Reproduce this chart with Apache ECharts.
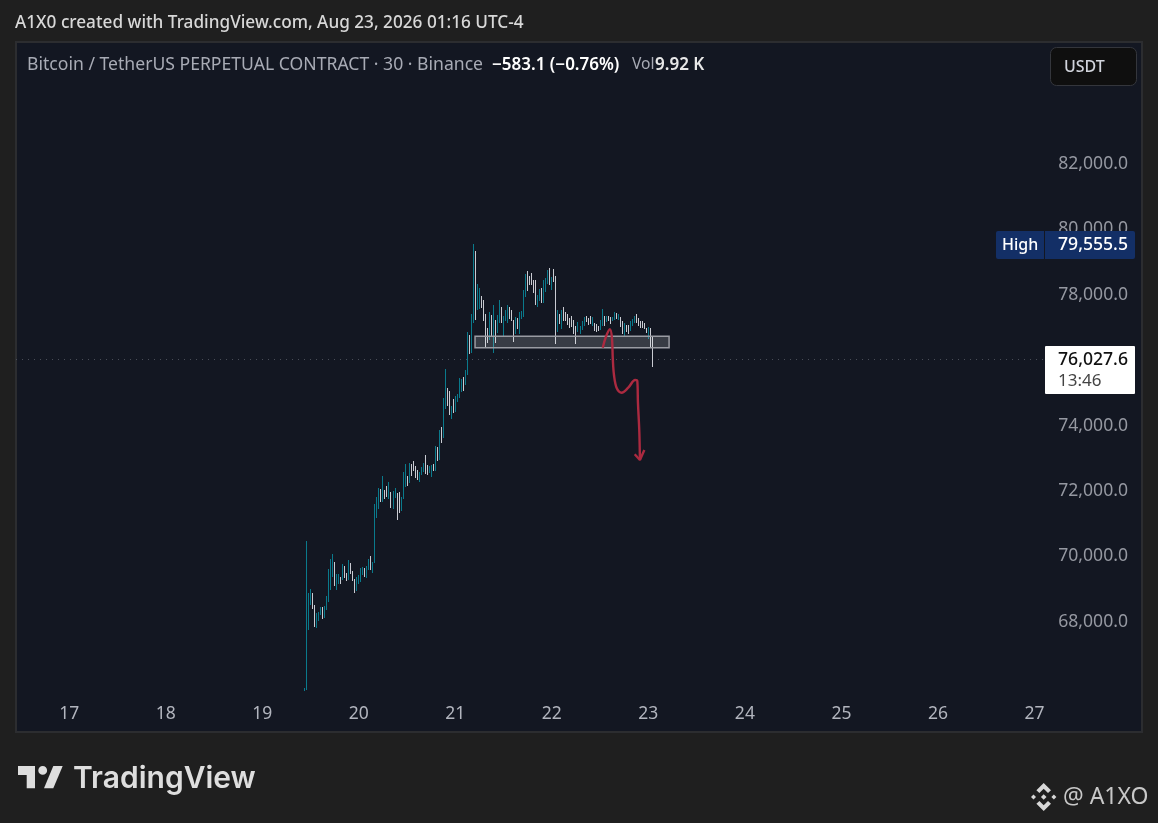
<!DOCTYPE html>
<html><head><meta charset="utf-8">
<style>html,body{margin:0;padding:0;background:#1f1f1f}#c{width:1158px;height:823px}</style>
<script src="https://cdn.jsdelivr.net/npm/echarts@6/dist/echarts.min.js"></script>
</head><body><div id="c"></div>
<script>
const headerText = 'A1X0 created with TradingView.com, Aug 23, 2026 01:16 UTC-4';
const symbolText = 'Bitcoin / TetherUS PERPETUAL CONTRACT · 30 · Binance';
const changeText = '−583.1 (−0.76%)';
const yTicks = [68000, 70000, 72000, 74000, 78000, 80000, 82000];
const dayLabels = [17, 18, 19, 20, 21, 22, 23, 24, 25, 26, 27];
const highPrice = 79555.5;
const lastPrice = 76027.6;
const countdown = '13:46';

const highs = [
65970,70458,68871,68993,68871,68504,68260,68290,68443,68443,
68474,68779,69603,69909,70061,69817,69451,69451,69359,69756,
69695,69481,69878,69787,69542,69298,69359,69420,69634,69665,
69634,69695,69909,70000,69817,71588,71802,72077,72046,72474,
72016,72138,72290,71955,71985,72107,71924,71955,71802,72596,
72840,72474,72871,72840,72932,72779,72657,72596,72748,72871,
73115,72810,72779,72810,72840,
73389,73359,73878,73969,74855,75740,75160,75069,74611,74824,
74916,74977,75465,75435,75496,75710,76870,76778,77420,
79555.5,79344,78336,78214,77970,77848,77420,76993,77481,77389,
77695,77237,77389,77848,77634,77359,77542,77695,77634,77542,
77237,77328,77298,77481,77512,78153,78641,78733,78580,78672,
78458,78458,78000,78183,78214,78458,78519,78764,78825,78550,
78794,78580,77542,77420,77542,77634,77481,77420,
77298,77359,77237,77054,77176,77054,77206,77328,77359,77298,
77359,77328,77145,77114,77054,77237,77572,77359,77359,77359,
77328,77328,77481,77450,77420,77328,77206,77145,77084,77084,
77206,77267,77359,77420,77298,77206,77206,77145,76993,77023,
76993,76718];
const lows = [
65888,65888,67741,68504,68382,67832,67802,68016,68199,68077,
68107,68352,68596,68962,69359,69084,68962,69145,69145,69268,
69329,69237,69268,69451,69237,68871,68932,69145,69206,69420,
69359,69329,69573,69573,69481,69787,71161,71436,71649,71680,
71741,71802,71771,71466,71436,71802,71100,71313,71374,71771,
72138,72168,72260,72474,72626,72413,72352,72290,72504,72596,
72535,72504,72565,72443,72626,
72626,72931,72962,73481,73633,74519,74611,74336,74214,74397,
74427,74733,74855,75038,75069,75252,75557,76198,76229,
77145,77237,77542,77573,77603,77206,76372,76535,76626,76748,
76229,76535,76840,77145,77145,76748,77206,77145,77267,77206,
76565,76809,76962,76809,77267,77328,77939,78122,78306,78306,
78061,77695,77634,77817,77756,77756,78092,78336,78306,78153,
78397,76504,76870,77115,76962,77206,77206,77084,
76993,77023,76809,76504,76870,76809,76931,77054,77176,77084,
77114,77054,76900,76870,76900,76931,77054,77054,77176,77206,
77114,77206,77237,77267,77237,77023,76809,76748,76870,76809,
76900,77054,77145,77145,77054,76993,76993,76962,76840,76657,
76412,75802];
const ups = [
1,1,1,1,0,0,1,1,1,0,
1,1,1,1,1,0,1,1,0,1,
0,0,1,0,0,0,1,1,1,1,
0,1,1,0,1,1,1,1,0,1,
0,0,1,0,1,1,0,0,1,1,
1,0,1,0,0,0,0,1,1,1,
0,0,1,1,0,
1,0,1,0,1,1,0,0,1,0,
1,1,1,1,0,1,1,0,1,
1,0,1,1,0,0,0,0,1,0,
1,0,1,1,0,1,1,1,0,0,
0,1,0,1,1,1,1,0,0,0,
0,0,1,1,0,1,1,1,0,1,
0,0,1,0,1,0,0,0,
0,0,0,0,1,1,1,1,0,0,
0,1,0,0,0,1,1,0,1,0,
0,1,1,0,1,0,0,1,0,0,
1,1,1,0,0,0,0,0,0,1,
0,0];
const firstBarSlot = 143;

// Hand-drawn annotation, in slot units along the time axis and price units
const arrowSlots  = [291.8,293.4,295.4,296.4,296.8,297.4,298.8,301.2,304.5,307.9,309,309.3,310,310.3];
const arrowPrices = [76382,76719,76945,76670,76058,75547,75141,75006,75159,75395,75364,74731,73813,72948];
const headSlots   = [307.7,310.3,312.5];
const headPrices  = [73122,72948,73254];
const zoneSlots   = [228.3,324.8];
const zonePrices  = [76731,76382];

const SLOTS = 560, DAY0_SLOT = 26, PER_DAY = 48;
const categories = [];
for (let i = 0; i < SLOTS; i++) categories.push('s' + i);
const dayOfSlot = i => (i - DAY0_SLOT) / PER_DAY + dayLabels[0];

const bars = highs.map((h, i) => [firstBarSlot + i, h, lows[i], ups[i]]);

const UI = '"Noto Sans", sans-serif';
const chart = echarts.init(document.getElementById('c'), null, {renderer: 'canvas'});

const txt = (x, y, text, fill, size, weight, extra) => ({
  type: 'text', x, y, z: 100, silent: true,
  style: Object.assign({text, fill, font: `${weight || 400} ${size}px ${UI}`, textVerticalAlign: 'middle'}, extra || {})
});
const poly = (points, fill) => ({type: 'polygon', z: 100, silent: true, shape: {points}, style: {fill}});
const rect = (x, y, width, height, fill, r, stroke) => ({
  type: 'rect', z: 99, silent: true, shape: {x, y, width, height, r: r || 0},
  style: {fill, stroke: stroke || null, lineWidth: stroke ? 1 : 0}
});

const logoFill = '#dedede';
const graphics = [
  txt(15, 23, headerText, '#d8d8d8', 17.2, 500),
  txt(27, 65, symbolText, '#a8abb5', 17.6),
  txt(492, 65, changeText, '#ffffff', 17, 600),
  txt(632, 65, 'Vol', '#a8abb5', 15.6),
  txt(655, 65, '9.92 K', '#e8e8e8', 17, 600),
  rect(1050.5, 47.5, 86, 38, '#0f0f0f', 6, '#34363c'),
  txt(1064, 67, 'USDT', '#d1d4dc', 16, 500),
  rect(996, 231, 48, 28, '#132f66', [2, 0, 0, 2]),
  rect(1045, 231, 90, 28, '#132f66', [0, 2, 2, 0]),
  txt(1002, 245, 'High', '#ffffff', 16, 500),
  txt(1058, 245, highPrice.toLocaleString('en-US', {minimumFractionDigits: 1}), '#ffffff', 17.6, 500),
  rect(1045, 346, 90, 48, '#ffffff', 1),
  txt(1058, 360, lastPrice.toLocaleString('en-US', {minimumFractionDigits: 1}), '#111111', 17.6, 500),
  txt(1058, 381, countdown, '#444444', 17),
  poly([[18,766],[35,766],[35,788.3],[26.7,788.3],[26.7,775],[18,775]], logoFill),
  {type: 'circle', z: 100, silent: true, shape: {cx: 42.7, cy: 770.4, r: 4.4}, style: {fill: logoFill}},
  poly([[53.3,766],[62.7,766],[53.3,788.3],[44,788.3]], logoFill),
  txt(73, 779, 'TradingView', logoFill, 30, 600, {font: '600 30px Inter, sans-serif'}),
  poly([[1043.7,783],[1051,790.3],[1048,793],[1043.7,788.7],[1039.4,793],[1036.4,790.3]], '#d8d8d8'),
  poly([[1043.7,811],[1051,803.7],[1048,801],[1043.7,805.3],[1039.4,801],[1036.4,803.7]], '#d8d8d8'),
  poly([[1043.7,794.2],[1046.5,797],[1043.7,799.8],[1040.9,797]], '#d8d8d8'),
  poly([[1033.5,794.5],[1036,797],[1033.5,799.5],[1031,797]], '#d8d8d8'),
  poly([[1053.9,794.5],[1056.4,797],[1053.9,799.5],[1051.4,797]], '#d8d8d8'),
  txt(1063, 797, '@ A1XO', '#c8c8c8', 23)
];

chart.setOption({
  animation: false,
  backgroundColor: '#1f1f1f',
  grid: {left: 16, right: 16, top: 42, bottom: 91, show: true, backgroundColor: '#131722', borderColor: '#2c2d30', borderWidth: 2},
  xAxis: [
    {type: 'category', data: categories, boundaryGap: true,
     axisLine: {show: false}, axisTick: {show: false}, splitLine: {show: false},
     axisLabel: {inside: true, margin: 9, color: '#b2b5be', fontFamily: UI, fontSize: 17.5,
       interval: i => Number.isInteger(dayOfSlot(i)) && dayLabels.includes(dayOfSlot(i)),
       formatter: (v, i) => String(dayOfSlot(i))}},
    {type: 'value', min: 0, max: SLOTS, show: false}
  ],
  yAxis: {type: 'value', position: 'right', min: 64630, max: 85731, scale: true,
    axisLine: {show: false}, axisTick: {show: false}, splitLine: {show: false},
    axisLabel: {inside: true, margin: 14, customValues: yTicks, color: '#9598a1', fontFamily: UI, fontSize: 17.6,
      formatter: v => v.toLocaleString('en-US', {minimumFractionDigits: 1})}},
  graphic: graphics,
  series: [
    {type: 'custom', xAxisIndex: 0, yAxisIndex: 0, data: bars, clip: true, z: 3,
     encode: {x: 0, y: [1, 2]},
     renderItem: (params, api) => {
       const top = api.coord([api.value(0), api.value(1)]);
       const bot = api.coord([api.value(0), api.value(2)]);
       return {type: 'rect',
         shape: {x: Math.round(top[0] - 0.5), y: Math.round(top[1]), width: 1, height: Math.max(1, Math.round(bot[1] - top[1]))},
         style: {fill: api.value(3) ? '#0a7a8c' : '#c9cbd2'}};
     }},
    {type: 'line', xAxisIndex: 1, yAxisIndex: 0, z: 5, smooth: 0.35, symbol: 'none',
     data: arrowSlots.map((s, i) => [s, arrowPrices[i]]),
     lineStyle: {color: '#ab2a40', width: 2.4},
     markArea: {silent: true, z: 4,
       itemStyle: {color: 'rgba(255,255,255,0.16)', borderColor: '#9a9ca3', borderWidth: 1.5},
       data: [[{coord: [zoneSlots[0], zonePrices[0]]}, {coord: [zoneSlots[1], zonePrices[1]]}]]},
     markLine: {silent: true, symbol: 'none', label: {show: false}, z: 2,
       lineStyle: {color: '#4a4e58', type: [1, 5], width: 1},
       data: [[{coord: [0, lastPrice]}, {coord: [512, lastPrice]}]]}},
    {type: 'line', xAxisIndex: 1, yAxisIndex: 0, z: 5, symbol: 'none',
     data: headSlots.map((s, i) => [s, headPrices[i]]),
     lineStyle: {color: '#ab2a40', width: 2.4}}
  ]
});
</script></body></html>
